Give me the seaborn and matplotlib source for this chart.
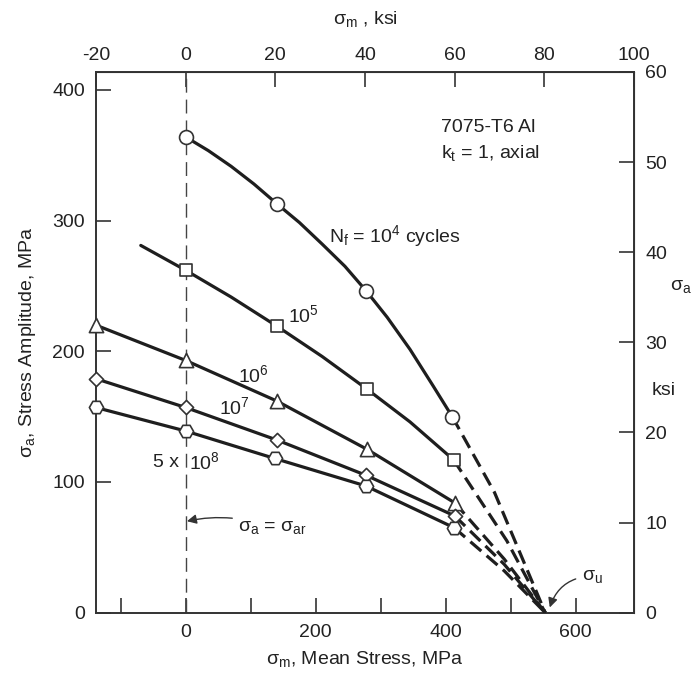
import seaborn as sns
import matplotlib.pyplot as plt

# MPa por ksi
KSI = 6.895

# Puntos (MPa). Marcadores y trazo de cada curva
n4_x = [0, 140, 278, 410]
n4_y = [364, 313, 246, 150]
n4_curva_x = [0, 35, 70, 105, 140, 175, 210, 245, 278, 310, 345, 380, 410]
n4_curva_y = [364, 353.5, 341.5, 328, 313, 298.5, 282, 265, 246, 226, 201.5, 174, 150]
n4_disc_x = [410, 475, 553]
n4_disc_y = [150, 92, 0]

n5_x = [0, 141, 279, 412]
n5_y = [262, 219, 171, 117]
n5_curva_x = [-69, 0, 70, 141, 210, 279, 345, 412]
n5_curva_y = [281, 262, 241.5, 219, 196, 171, 146, 117]
n5_disc_x = [412, 494, 553]
n5_disc_y = [117, 55, 0]

n6_x = [-138, 0, 140, 279, 414]
n6_y = [220, 193, 162, 125, 84]
n6_disc_x = [414, 490, 553]
n6_disc_y = [84, 41, 0]

n7_x = [-138, 0, 141, 278, 414]
n7_y = [179, 157, 132, 105, 74]
n7_disc_x = [414, 490, 553]
n7_disc_y = [74, 37, 0]

n8_x = [-138, 0, 137, 277, 413]
n8_y = [157, 139, 118, 97, 65]
n8_disc_x = [413, 490, 553]
n8_disc_y = [65, 32, 0]

series = [
    ("o", 100, n4_x, n4_y, n4_curva_x, n4_curva_y, n4_disc_x, n4_disc_y),
    ("s", 64, n5_x, n5_y, n5_curva_x, n5_curva_y, n5_disc_x, n5_disc_y),
    ("^", 105, n6_x, n6_y, n6_x, n6_y, n6_disc_x, n6_disc_y),
    ("D", 52, n7_x, n7_y, n7_x, n7_y, n7_disc_x, n7_disc_y),
    ("H", 105, n8_x, n8_y, n8_x, n8_y, n8_disc_x, n8_disc_y),
]

sns.set_style("ticks")
plt.rcParams["font.family"] = ["Liberation Sans", "DejaVu Sans"]
plt.rcParams["mathtext.fontset"] = "custom"
plt.rcParams["mathtext.rm"] = "Liberation Sans"
plt.rcParams["mathtext.it"] = "Liberation Sans"
plt.rcParams["axes.unicode_minus"] = False

negro = "#1e1e1e"
gris = "#222222"
fig = plt.figure(figsize=(6.94, 6.81), dpi=100)
ax = fig.add_axes([0.1383, 0.1003, 0.7752, 0.794])

# linea discontinua vertical en sigma_m = 0
ax.axvline(0, color="#444444", lw=1.0, ls=(0, (10, 5)), zorder=1)

for marca, tam, mx, my, cx, cy, dx, dy in series:
    sns.lineplot(x=cx, y=cy, ax=ax, color=negro, lw=2.3, estimator=None, sort=False, zorder=3)
    sns.lineplot(x=dx, y=dy, ax=ax, color=negro, lw=2.3, estimator=None, sort=False,
                 linestyle=(0, (4.5, 2.2)), zorder=3)
    sns.scatterplot(x=mx, y=my, ax=ax, marker=marca, s=tam, color="white",
                    edgecolor="#333333", linewidth=1.2, zorder=5, clip_on=False)

ax.set_xlim(-20 * KSI, 100 * KSI)
ax.set_ylim(0, 60 * KSI)
ax.set_xticks([0, 200, 400, 600])
ax.set_xticks([-100, 100, 300, 500], minor=True)
ax.set_yticks([0, 100, 200, 300, 400])

ax.tick_params(which="both", direction="in", length=11, width=1.2, labelsize=14,
               color="#333333", labelcolor=gris, pad=8)
for s in ax.spines.values():
    s.set_linewidth(1.4)
    s.set_color("#333333")

ax.set_xlabel("σ$_\\mathrm{m}$, Mean Stress, MPa", fontsize=14, color=gris, labelpad=6)
ax.set_ylabel("σ$_\\mathrm{a}$, Stress Amplitude, MPa", fontsize=14, color=gris, labelpad=10)

# ejes secundarios en ksi
top = ax.secondary_xaxis("top", functions=(lambda v: v / KSI, lambda v: v * KSI))
top.set_xticks([-20, 0, 20, 40, 60, 80, 100])
top.tick_params(direction="in", length=11, width=1.2, labelsize=14, color="#333333",
                labelcolor=gris, pad=6)
top.set_xlabel("σ$_\\mathrm{m}$ , ksi", fontsize=14, color=gris, labelpad=16)

right = ax.secondary_yaxis("right", functions=(lambda v: v / KSI, lambda v: v * KSI))
right.set_yticks([0, 10, 20, 30, 40, 50, 60])
right.tick_params(direction="in", length=11, width=1.2, labelsize=14, color="#333333",
                  labelcolor=gris, pad=8)
ax.text(1.067, 36.2 * KSI, "σ$_\\mathrm{a}$", transform=ax.get_yaxis_transform(),
        fontsize=14, color=gris, va="center", ha="left")
ax.text(1.033, 24.7 * KSI, "ksi", transform=ax.get_yaxis_transform(),
        fontsize=14, color=gris, va="center", ha="left")

# textos dentro del grafico
ax.text(392, 371, "7075-T6 Al", fontsize=14, color=gris, va="center")
ax.text(392, 352, "k$_\\mathrm{t}$ = 1, axial", fontsize=14, color=gris, va="center")
ax.text(220, 288, "N$_\\mathrm{f}$ = 10$^\\mathrm{4}$ cycles", fontsize=14, color=gris, va="center")
ax.text(157, 228, "10$^\\mathrm{5}$", fontsize=14, color=gris, va="center")
ax.text(80, 182, "10$^\\mathrm{6}$", fontsize=14, color=gris, va="center")
ax.text(52, 157, "10$^\\mathrm{7}$", fontsize=14, color=gris, va="center")
ax.text(-50, 115, "5 x", fontsize=14, color=gris, va="center")
ax.text(5, 115, "10$^\\mathrm{8}$", fontsize=14, color=gris, va="center")

ax.annotate("σ$_\\mathrm{a}$ = σ$_\\mathrm{ar}$", xy=(2, 70), xytext=(81, 65),
            fontsize=14, color=gris, va="center",
            arrowprops=dict(arrowstyle="-|>", color="#333333", lw=1.0,
                            connectionstyle="arc3,rad=0.15", shrinkA=2, shrinkB=0))
ax.annotate("σ$_\\mathrm{u}$", xy=(560, 4), xytext=(609, 28),
            fontsize=14, color=gris, va="center",
            arrowprops=dict(arrowstyle="-|>", color="#333333", lw=1.0,
                            connectionstyle="arc3,rad=0.35", shrinkA=2, shrinkB=0))

plt.savefig("out.png", dpi=100)
